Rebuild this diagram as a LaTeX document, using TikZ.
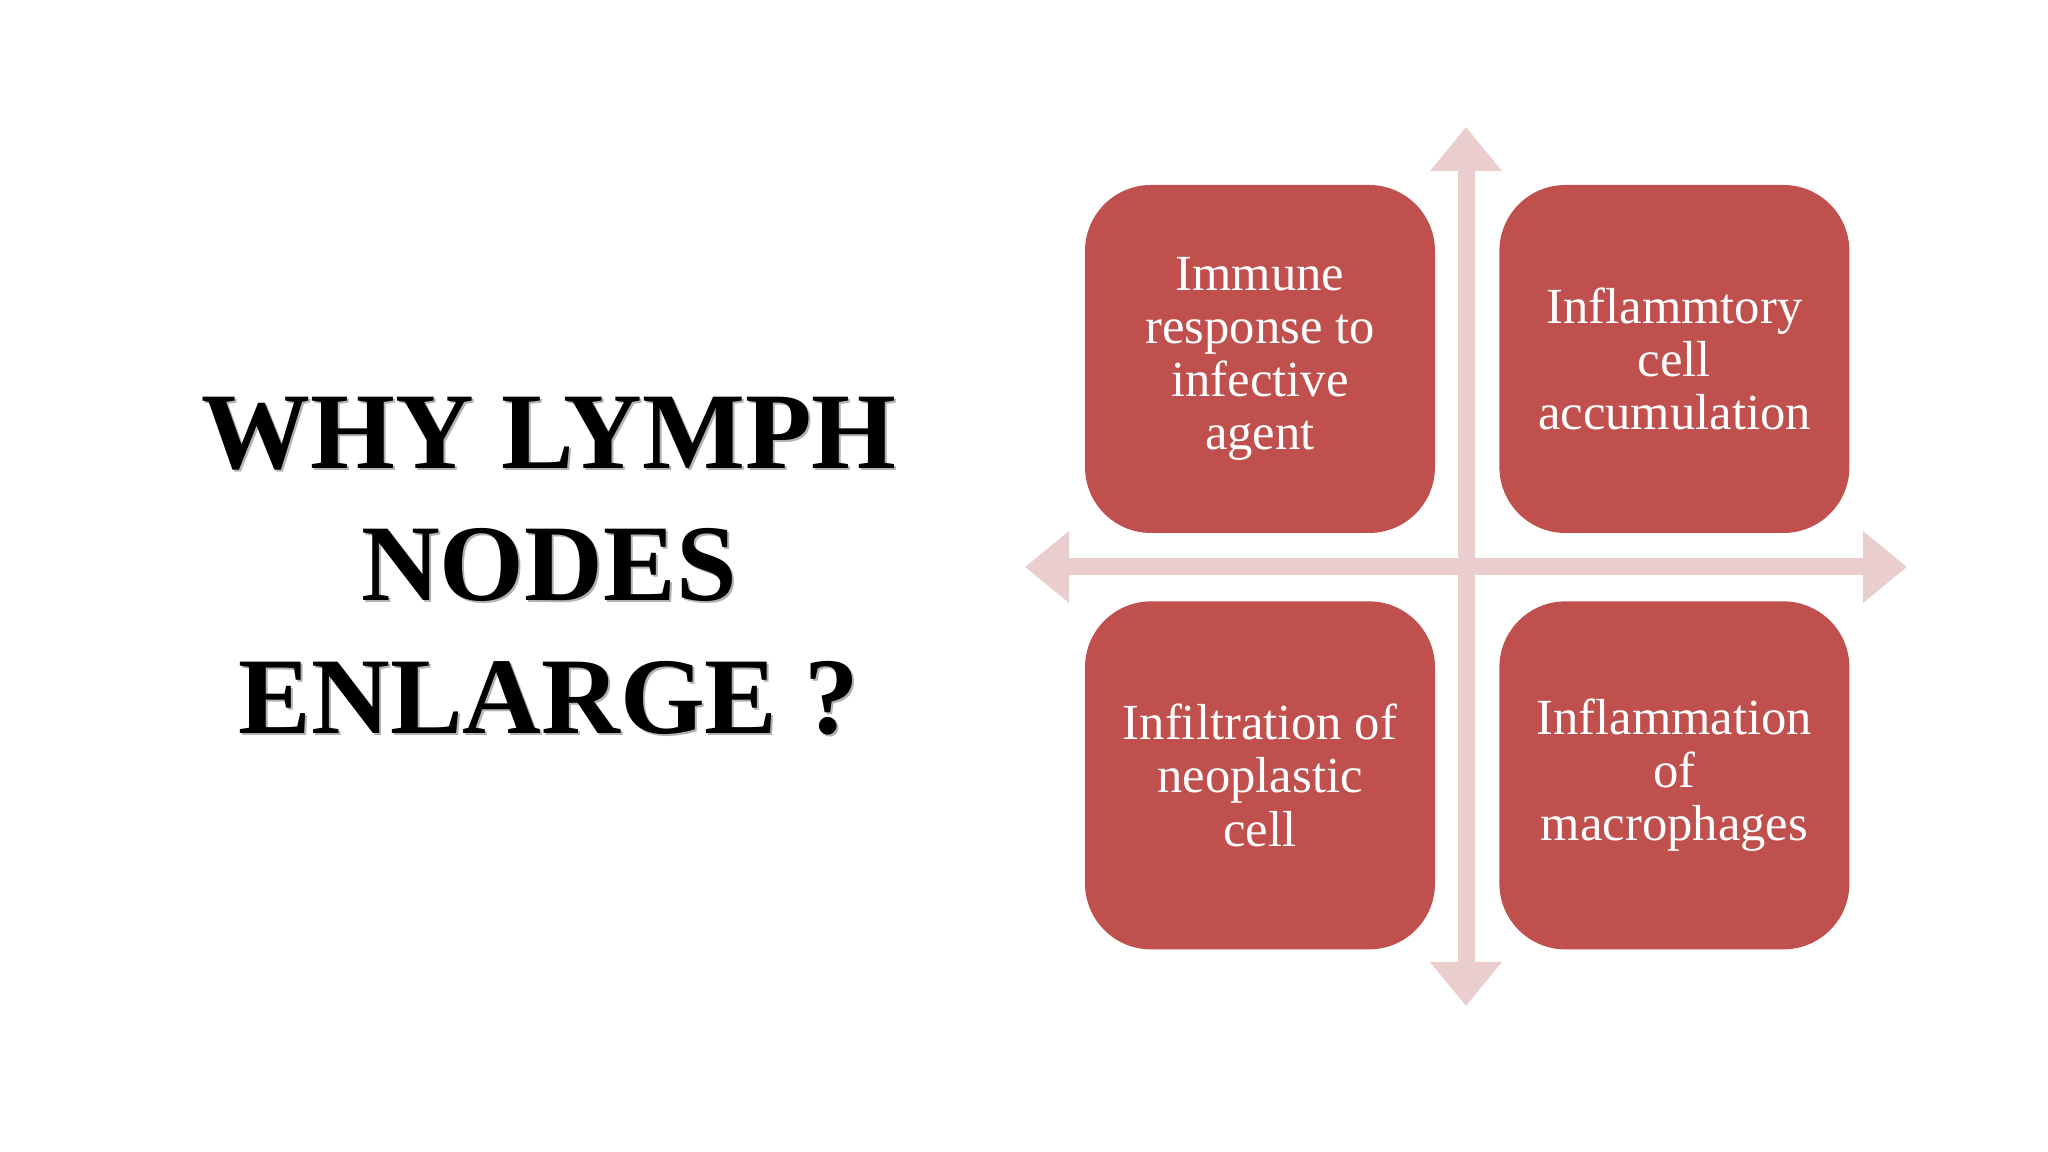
\documentclass[tikz,border=0pt]{standalone}
\usepackage{fontspec}
\setmainfont{Liberation Serif}
\definecolor{BoxRed}{RGB}{192, 80, 77}
\definecolor{CrossPink}{RGB}{234, 205, 205}
\usetikzlibrary{arrows.meta, positioning}

\begin{document}
\begin{tikzpicture}[
    node distance=0.67cm and 0.63cm,
    every node/.style={align=center},
    reason/.style={fill=BoxRed, rounded corners=0.66cm, text=white,
                   minimum width=3.5cm, minimum height=3.48cm,
                   inner sep=0pt, font=\fontsize{14.4}{15.1}\selectfont},
    headline/.style={font=\fontsize{31}{37.7}\selectfont\bfseries},
    crossarrow/.style={CrossPink, line width=1.7mm,
                       {Triangle[length=4.4mm, width=6.9mm]}-{Triangle[length=4.4mm, width=6.9mm]}}
]
\useasboundingbox[fill=white] (0,0) rectangle (20.48,11.52);

% title
\node[headline, text=black!30] (titleshadow) at (5.51,5.84) {WHY LYMPH\\NODES\\ENLARGE ?};
\node[headline] (title) at (5.49,5.86) {WHY LYMPH\\NODES\\ENLARGE ?};

% cross
\coordinate (up) at (14.66,10.25);
\coordinate (down) at (14.66,1.46);
\coordinate (left) at (10.25,5.85);
\coordinate (right) at (19.07,5.85);
\draw[crossarrow] (down) -- (up);
\draw[crossarrow] (left) -- (right);

% quadrants
\node[reason] (immune) at (12.60,7.93) {Immune\\response to\\infective\\agent};
\node[reason, right=of immune] (inflcell) {Inflammtory\\cell\\accumulation};
\node[reason, below=of immune] (neoplastic) {Infiltration of\\neoplastic\\cell};
\node[reason, below=of inflcell] (macro) {Inflammation\\of\\macrophages};
\end{tikzpicture}
\end{document}
